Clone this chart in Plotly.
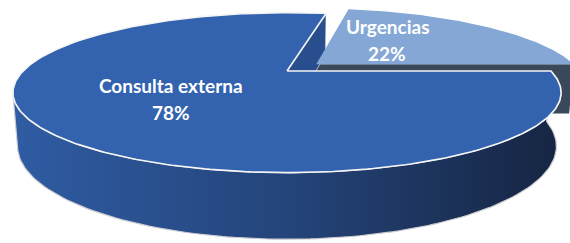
import numpy as np
import plotly.graph_objects as go

# ---- data ----
labels = ["Urgencias", "Consulta externa"]
values = [22, 78]

# ---- styling / geometry (not data) ----
PULL = [0.1475, 0.0]
TOP_COLORS = ["rgb(132,167,213)", "rgb(51,99,175)"]
CUT_COLORS = ["rgb(58,72,92)", "rgb(40,78,142)"]
SIDE_SCALE = [[0, "rgb(47,92,163)"], [0.5, "rgb(36,68,122)"], [1, "rgb(22,37,66)"]]

W, Hpx = 570, 243
CX, CY = 287.0, 71.0
F = 937.0
S = 0.281
C = np.sqrt(1 - S * S)
D = 3.551
THICK = 0.2026


def proj(x, y, z):
    x, y, z = np.asarray(x, float), np.asarray(y, float), np.asarray(z, float)
    dist = D - z * C - y * S
    return CX + F * x / dist, CY + F * (z * S - y * C) / dist


total = float(sum(values))
fracs = [v / total for v in values]
bounds = []
a0 = 0.0
for f in fracs:
    bounds.append((a0, a0 + 360 * f))
    a0 += 360 * f


def offset(i):
    a, b = bounds[i]
    mid = np.radians((a + b) / 2)
    return PULL[i] * np.cos(mid), -PULL[i] * np.sin(mid)


def rim(i, a, b, y, n=120, r=1.0):
    t = np.radians(np.linspace(a, b, n))
    ox, oz = offset(i)
    return proj(r * np.cos(t) + ox, np.full_like(t, y), -r * np.sin(t) + oz)


def pt(i, ang, y, r):
    ox, oz = offset(i)
    t = np.radians(ang)
    return proj([r * np.cos(t) + ox], [y], [-r * np.sin(t) + oz])


fig = go.Figure()


def poly(xs, ys, color, lc="rgba(0,0,0,0)", lw=0, grad=None):
    kw = dict(x=xs, y=ys, mode="lines", fill="toself", line=dict(color=lc, width=lw),
              hoverinfo="skip", showlegend=False)
    if grad is not None:
        kw["fillgradient"] = dict(type="horizontal", colorscale=grad)
    else:
        kw["fillcolor"] = color
    fig.add_trace(go.Scatter(**kw))


def cut_face(i, ang):
    c0 = pt(i, ang, 0, 0)
    c1 = pt(i, ang, 0, 1)
    c2 = pt(i, ang, -THICK, 1)
    c3 = pt(i, ang, -THICK, 0)
    xs = np.concatenate([c0[0], c1[0], c2[0], c3[0], c0[0]])
    ys = np.concatenate([c0[1], c1[1], c2[1], c3[1], c0[1]])
    return xs, ys


# Urgencias front cut face
xs, ys = cut_face(0, bounds[0][0])
poly(xs, ys, CUT_COLORS[0])

# Consulta externa cut face
xs, ys = cut_face(1, bounds[1][0])
poly(xs, ys, CUT_COLORS[1], lc="rgba(255,255,255,0.6)", lw=1)

# Urgencias top face
cx0, cy0 = pt(0, 0, 0, 0)
rx, ry = rim(0, bounds[0][0], bounds[0][1], 0)
poly(np.concatenate([cx0, rx, cx0]), np.concatenate([cy0, ry, cy0]), TOP_COLORS[0])

# Consulta externa outer side (visible front part)
z0 = 1.0 / (D * C)
a_vis = 180 + np.degrees(np.arcsin(z0))
a_end = bounds[1][1]
tx, ty = rim(1, a_vis, a_end, 0)
bx, by = rim(1, a_end, a_vis, -THICK)
poly(np.concatenate([tx, bx, tx[:1]]), np.concatenate([ty, by, ty[:1]]), None,
     lc="rgb(205,205,210)", lw=1.2, grad=SIDE_SCALE)

# Consulta externa top face
cx1, cy1 = pt(1, 0, 0, 0)
rx, ry = rim(1, bounds[1][0], bounds[1][1], 0, n=300)
poly(np.concatenate([cx1, rx, cx1]), np.concatenate([cy1, ry, cy1]), TOP_COLORS[1],
     lc="rgb(245,245,245)", lw=1.6)

# labels
LABEL_R = [0.39, 0.52]
LABEL_DY = [-8, 0]
for i, (lab, v) in enumerate(zip(labels, values)):
    a, b = bounds[i]
    lx, ly = pt(i, (a + b) / 2, 0, LABEL_R[i])
    pct = f"{round(100 * v / total)}%"
    font = dict(family="Lato, 'Open Sans', sans-serif", size=19, color="white")
    fig.add_annotation(x=lx[0], y=ly[0], text=f"<b>{lab}</b>", showarrow=False,
                       font=font, yshift=13 - LABEL_DY[i], xanchor="center", yanchor="middle")
    fig.add_annotation(x=lx[0], y=ly[0], text=f"<b>{pct}</b>", showarrow=False,
                       font=font, yshift=-14 - LABEL_DY[i], xanchor="center", yanchor="middle")

fig.update_layout(
    width=W, height=Hpx, margin=dict(l=0, r=0, t=0, b=0),
    paper_bgcolor="white", plot_bgcolor="white",
    xaxis=dict(range=[0, W], visible=False, fixedrange=True),
    yaxis=dict(range=[Hpx, 0], visible=False, fixedrange=True),
)
fig.write_html("out.html", config={"displayModeBar": False},
               post_script="document.body.style.margin='0';document.body.style.overflow='hidden';")
